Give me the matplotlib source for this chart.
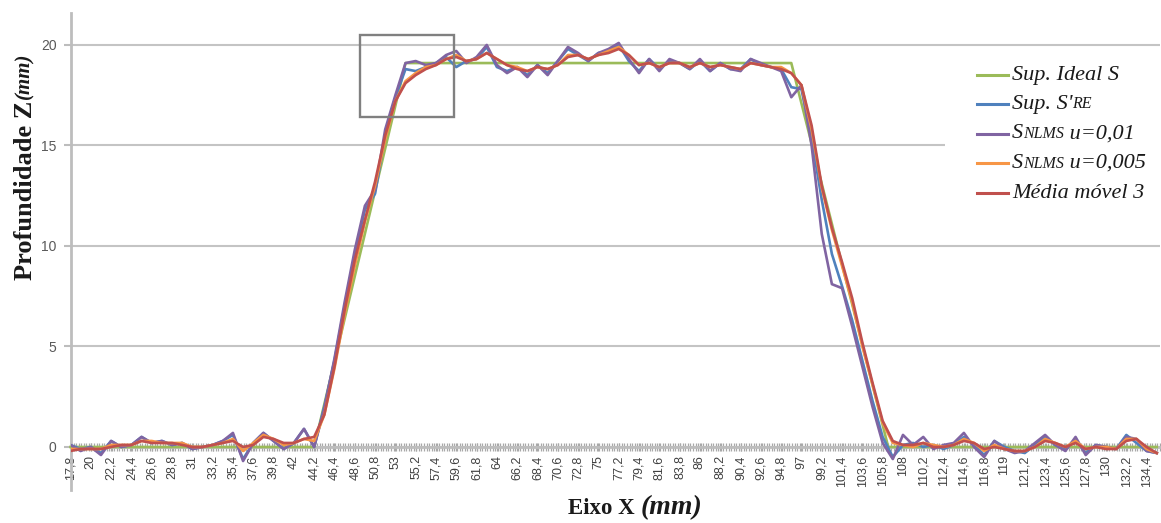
import matplotlib
matplotlib.use("Agg")
import matplotlib.pyplot as plt
from matplotlib.lines import Line2D
from matplotlib.patches import Rectangle
from matplotlib.offsetbox import TextArea, HPacker, DrawingArea, AnchoredOffsetbox
from matplotlib.ticker import FixedLocator, MultipleLocator

# ---------------- data ----------------
x_mm = [17.8, 18.9, 20.0, 21.1, 22.2, 23.3, 24.4, 25.5, 26.6, 27.7, 28.8, 29.9, 31.0, 32.1,
        33.2, 34.3, 35.4, 36.5, 37.6, 38.7, 39.8, 40.9, 42.0, 43.1, 44.2, 45.3, 46.4, 47.5,
        48.6, 49.7, 50.8, 51.9, 53.0, 54.1, 55.2, 56.3, 57.4, 58.5, 59.6, 60.7, 61.8, 62.9,
        64.0, 65.1, 66.2, 67.3, 68.4, 69.5, 70.6, 71.7, 72.8, 73.9, 75.0, 76.1, 77.2, 78.3,
        79.4, 80.5, 81.6, 82.7, 83.8, 84.9, 86.0, 87.1, 88.2, 89.3, 90.4, 91.5, 92.6, 93.7,
        94.8, 95.9, 97.0, 98.1, 99.2, 100.3, 101.4, 102.5, 103.6, 104.7, 105.8, 106.9, 108.0,
        109.1, 110.2, 111.3, 112.4, 113.5, 114.6, 115.7, 116.8, 117.9, 119.0, 120.1, 121.2,
        122.3, 123.4, 124.5, 125.6, 126.7, 127.8, 128.9, 130.0, 131.1, 132.2, 133.3, 134.4, 135.5]

ideal_x = [17.8, 44.2, 54.1, 95.9, 106.4, 135.5]
ideal_z = [0.0, 0.0, 19.1, 19.1, 0.0, 0.0]

sup_re = [0.1, -0.1, 0.0, -0.3, 0.3, 0.0, 0.1, 0.5, 0.2, 0.3, 0.1, 0.2, -0.1, 0.0, 0.1, 0.3, 0.6, -0.6, 0.2, 0.7, 0.3, -0.1, 0.2,
          0.9, 0.0, 2.0, 4.3, 7.0, 9.6, 11.8, 12.6, 15.5, 17.4, 18.8, 18.7, 18.9, 19.1, 19.4, 18.9,
          19.2, 19.3, 19.9, 18.9, 18.7, 18.9, 18.5, 19.0, 18.6, 19.2, 19.8, 19.5, 19.2, 19.6, 19.7, 20.0, 19.2, 18.7, 19.3, 18.8, 19.2, 19.1, 18.8, 19.2, 18.7, 19.1, 18.8, 18.8, 19.3, 19.0, 18.9,
          18.8, 17.9, 17.8, 15.4, 12.3, 9.6, 8.0, 6.3, 4.3, 2.3, 0.5, -0.5, 0.1, 0.2, 0.0,
          0.1, -0.1, 0.1, 0.5, 0.1, -0.4, 0.3, 0.0, -0.2, -0.3, 0.1, 0.5, 0.1, -0.1, 0.4, -0.3, 0.1, 0.0, -0.1, 0.6, 0.2, -0.2, -0.3]

snlms_001 = [0.1, -0.2, 0.0, -0.4, 0.3, 0.0, 0.1, 0.5, 0.2, 0.3, 0.1, 0.2, -0.1, 0.0, 0.1, 0.3, 0.7, -0.7, 0.2, 0.7, 0.3, -0.1, 0.2,
             0.9, 0.0, 1.9, 4.4, 7.2, 9.8, 12.0, 12.8, 15.8, 17.5, 19.1, 19.2, 19.0, 19.1, 19.5, 19.7,
             19.1, 19.4, 20.0, 19.0, 18.6, 18.9, 18.4, 19.0, 18.5, 19.2, 19.9, 19.6, 19.2, 19.6, 19.8, 20.1, 19.3, 18.6, 19.3, 18.7, 19.3, 19.1, 18.8, 19.3, 18.7, 19.1, 18.8, 18.7, 19.3, 19.1, 18.9,
             18.7, 17.4, 18.0, 15.0, 10.6, 8.1, 7.9, 6.0, 4.0, 2.0, 0.2, -0.6, 0.6, 0.1, 0.5,
             -0.1, 0.1, 0.2, 0.7, 0.0, -0.5, 0.3, -0.1, -0.3, -0.2, 0.2, 0.6, 0.1, -0.2, 0.5, -0.4, 0.1, 0.0, -0.1, 0.5, 0.4, -0.2, -0.3]

snlms_0005 = [-0.1, -0.1, -0.1, -0.1, 0.1, 0.1, 0.1, 0.3, 0.3, 0.2, 0.2, 0.2, 0.0, 0.0, 0.1, 0.2, 0.4, -0.2, 0.2, 0.6, 0.4, 0.1, 0.2,
              0.4, 0.3, 1.6, 3.9, 6.6, 9.0, 11.2, 13.0, 15.3, 17.2, 18.2, 18.6, 18.9, 19.0, 19.3, 19.5,
              19.2, 19.3, 19.6, 19.3, 19.0, 18.9, 18.7, 18.9, 18.8, 19.0, 19.5, 19.5, 19.3, 19.5, 19.7, 19.9, 19.5, 19.0, 19.1, 18.9, 19.1, 19.1, 18.9, 19.1, 18.9, 19.0, 18.9, 18.8, 19.1, 19.0, 18.9,
              18.9, 18.6, 18.0, 15.8, 12.9, 10.8, 9.0, 7.2, 5.0, 3.1, 1.2, 0.2, 0.1, 0.0, 0.2,
              0.1, 0.0, 0.1, 0.4, 0.2, -0.2, 0.1, -0.1, -0.2, -0.2, 0.0, 0.4, 0.2, 0.0, 0.3, -0.1, 0.0, 0.0, -0.1, 0.4, 0.4, -0.1, -0.3]

media_movel = [-0.2, -0.1, -0.1, -0.1, 0.0, 0.1, 0.1, 0.3, 0.2, 0.2, 0.2, 0.1, 0.0, 0.0, 0.1, 0.2, 0.3, 0.0, 0.1, 0.5, 0.4, 0.2, 0.2,
               0.4, 0.5, 1.6, 4.0, 6.8, 9.3, 11.3, 13.2, 15.5, 17.2, 18.1, 18.5, 18.8, 19.0, 19.3, 19.4,
               19.2, 19.3, 19.6, 19.3, 19.0, 18.8, 18.7, 18.9, 18.8, 19.0, 19.4, 19.5, 19.3, 19.5, 19.6, 19.8, 19.5, 19.0, 19.1, 18.9, 19.1, 19.1, 18.9, 19.1, 18.9, 19.0, 18.9, 18.8, 19.1, 19.0, 18.9,
               18.8, 18.6, 18.0, 16.0, 13.0, 10.9, 9.2, 7.4, 5.2, 3.2, 1.3, 0.3, 0.1, 0.1, 0.2,
               0.0, 0.0, 0.1, 0.3, 0.2, -0.1, 0.0, -0.1, -0.2, -0.2, 0.0, 0.3, 0.2, 0.0, 0.2, -0.1, 0.0, -0.1, -0.1, 0.3, 0.4, 0.0, -0.3]

x_tick_pos = [17.8, 20.0, 22.2, 24.4, 26.6, 28.8, 31.0, 33.2, 35.4, 37.6, 39.8, 42.0, 44.2, 46.4,
              48.6, 50.8, 53.0, 55.2, 57.4, 59.6, 61.8, 64.0, 66.2, 68.4, 70.6, 72.8, 75.0, 77.2,
              79.4, 81.6, 83.8, 86.0, 88.2, 90.4, 92.6, 94.8, 97.0, 99.2, 101.4, 103.6, 105.8,
              108.0, 110.2, 112.4, 114.6, 116.8, 119.0, 121.2, 123.4, 125.6, 127.8, 130.0, 132.2, 134.4]
x_tick_labels = ["17,8", "20", "22,2", "24,4", "26,6", "28,8", "31", "33,2", "35,4", "37,6", "39,8",
                 "42", "44,2", "46,4", "48,6", "50,8", "53", "55,2", "57,4", "59,6", "61,8", "64",
                 "66,2", "68,4", "70,6", "72,8", "75", "77,2", "79,4", "81,6", "83,8", "86", "88,2",
                 "90,4", "92,6", "94,8", "97", "99,2", "101,4", "103,6", "105,8", "108", "110,2",
                 "112,4", "114,6", "116,8", "119", "121,2", "123,4", "125,6", "127,8", "130",
                 "132,2", "134,4"]
y_ticks = [0, 5, 10, 15, 20]

# ---------------- figure ----------------
W, H = 1161, 523
fig = plt.figure(figsize=(W / 100, H / 100), dpi=100)
fig.patch.set_facecolor("white")

def fx(px):
    return px / W

def fy(py):
    return 1 - py / H

ax = fig.add_axes([fx(70.5), fy(490), fx(1160) - fx(70.5), fy(13) - fy(490)])
ax.set_xlim(17.8, 135.85)
ax.set_ylim(-2.14, 21.59)

grid_c = "#c4c4c4"
axis_c = "#bdbdbd"
ax.set_yticks(y_ticks)
ax.yaxis.grid(True, color=grid_c, linewidth=1.5, zorder=0)
ax.set_axisbelow(True)
for s in ["top", "right"]:
    ax.spines[s].set_visible(False)
ax.spines["left"].set_color(axis_c)
ax.spines["left"].set_linewidth(2.0)
ax.spines["bottom"].set_position(("data", 0))
ax.spines["bottom"].set_color(axis_c)
ax.spines["bottom"].set_linewidth(2.0)

ax.xaxis.set_major_locator(FixedLocator(x_tick_pos))
ax.set_xticklabels(x_tick_labels)
ax.xaxis.set_minor_locator(MultipleLocator(0.275))
ax.tick_params(axis="x", which="both", direction="inout", length=6, width=0.9, color="#a8a8a8")
ax.tick_params(axis="x", which="major", labelsize=9, labelcolor="#404040", pad=3,
               labelrotation=90)
ax.tick_params(axis="y", direction="out", length=5, width=1.5, color=axis_c,
               labelsize=10, labelcolor="#595959", pad=5)
for lab in ax.get_xticklabels() + ax.get_yticklabels():
    lab.set_fontfamily("Liberation Sans")

# series
c_green, c_blue, c_purple, c_orange, c_red = "#9BBB59", "#4F81BD", "#8064A2", "#F79646", "#C0504D"
lw = 1.9
ax.plot(ideal_x, ideal_z, color=c_green, lw=lw, zorder=3, clip_on=False)
ax.plot(x_mm, sup_re, color=c_blue, lw=lw, zorder=4)
ax.plot(x_mm, snlms_001, color=c_purple, lw=lw, zorder=5)
ax.plot(x_mm, snlms_0005, color=c_orange, lw=lw, zorder=6)
ax.plot(x_mm, media_movel, color=c_red, lw=lw, zorder=7)

# highlighted box
ax.add_patch(Rectangle((49.2, 16.4), 10.1, 4.1, fill=False, edgecolor="#808080",
                       linewidth=1.7, zorder=8, clip_on=False))

# axis titles
serif = "Liberation Serif"
fig.text(fx(25), fy(190), "Profundidade Z", rotation=90, ha="center", va="center",
         fontfamily=serif, fontweight="bold", fontsize=19, color="#1a1a1a")
fig.text(fx(24), fy(76), "(mm)", rotation=90, ha="center", va="center",
         fontfamily=serif, fontweight="bold", fontstyle="italic", fontsize=15, color="#1a1a1a")
fig.text(fx(601), fy(514), "Eixo X", ha="center", va="baseline",
         fontfamily=serif, fontweight="bold", fontsize=16.5, color="#1a1a1a")
fig.text(fx(671), fy(514), "(mm)", ha="center", va="baseline",
         fontfamily=serif, fontweight="bold", fontstyle="italic", fontsize=20, color="#1a1a1a")

# legend (white backing box + manual rows)
fig.patches.append(Rectangle((fx(945), fy(208)), fx(1160) - fx(945), fy(55) - fy(208),
                             transform=fig.transFigure, facecolor="white", edgecolor="none",
                             zorder=2))
legend_rows = [
    (c_green, [("Sup. Ideal S", 16)]),
    (c_blue, [("Sup. S'", 16), ("RE", 11.5)]),
    (c_purple, [("S", 16), ("NLMS", 11.5), (" u=0,01", 16)]),
    (c_orange, [("S", 16), ("NLMS", 11.5), (" u=0,005", 16)]),
    (c_red, [("Média móvel 3", 16)]),
]
row_y = [75, 104, 134, 163, 193]
pt = 72 / 100  # pixels -> points
for (col, pieces), ry in zip(legend_rows, row_y):
    da = DrawingArea(31 * pt, 8 * pt, 0, 0)
    da.add_artist(Line2D([0, 31 * pt], [4 * pt, 4 * pt], color=col, lw=2.2))
    tas = [TextArea(t, textprops=dict(fontfamily=serif, fontstyle="italic", fontsize=s,
                                      color="#1a1a1a")) for t, s in pieces]
    txt = HPacker(children=tas, sep=0, pad=0, align="baseline")
    row = HPacker(children=[da, txt], sep=4 * pt, pad=0, align="center")
    ab = AnchoredOffsetbox(loc="center left", child=row, pad=0, borderpad=0, frameon=False,
                           bbox_to_anchor=(fx(977), fy(ry)), bbox_transform=fig.transFigure)
    ab.set_zorder(10)
    fig.add_artist(ab)

fig.savefig("out.png", dpi=100, facecolor="white")
